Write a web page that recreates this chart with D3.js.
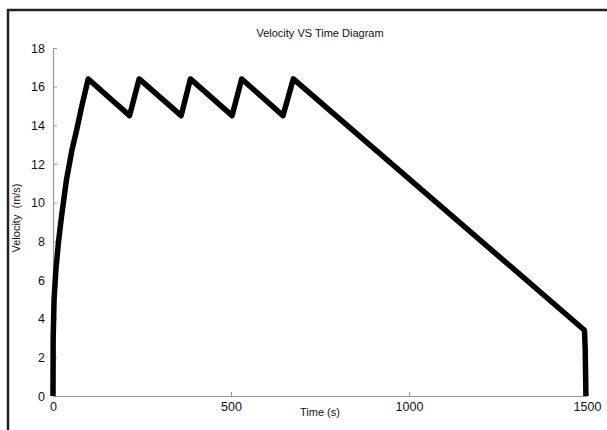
<!DOCTYPE html>
<html>
<head>
    <meta charset="utf-8">
    <script src="https://d3js.org/d3.v7.min.js"></script>
    <style>
        body { margin: 0; background: #fff; }
        text { font-family: "Liberation Sans", Arial, sans-serif; fill: #111; }
    </style>
</head>
<body>
    <div id="chart"><svg width="607" height="430"></svg></div>
    <script>
        // time (s) and velocity (m/s)
        var time = [0, 0.5, 3, 8, 15, 24, 38, 53, 67, 81, 99,
            215, 242, 360, 386, 503, 530, 646, 675, 1493, 1495, 1497];
        var velocity = [0, 3, 5, 6.5, 7.9, 9.3, 11.2, 12.7, 13.8, 15.0, 16.4,
            14.5, 16.4, 14.5, 16.4, 14.5, 16.4, 14.5, 16.4, 3.4, 2.4, 0];
        var xTicks = [0, 500, 1000, 1500];
        var yTicks = [0, 2, 4, 6, 8, 10, 12, 14, 16, 18];

        var svg = d3.select("#chart svg");

        // outer frame (only top and left edges fall inside the picture)
        svg.append("rect")
            .attr("x", 8).attr("y", 10)
            .attr("width", 640).attr("height", 460)
            .attr("fill", "none")
            .attr("stroke", "#222")
            .attr("stroke-width", 2.5);

        var plotL = 53, plotR = 587, plotT = 48, plotB = 396;
        var x = d3.scaleLinear().domain([0, 1500]).range([plotL, plotR]);
        var y = d3.scaleLinear().domain([0, 18]).range([plotB, plotT]);

        var xAxis = svg.append("g")
            .attr("transform", "translate(0," + plotB + ")")
            .call(d3.axisBottom(x).tickValues(xTicks).tickFormat(d3.format("d"))
                .tickSizeInner(-4).tickSizeOuter(0).tickPadding(6));
        var yAxis = svg.append("g")
            .attr("transform", "translate(" + plotL + ",0)")
            .call(d3.axisLeft(y).tickValues(yTicks).tickFormat(d3.format("d"))
                .tickSizeInner(-4).tickSizeOuter(0).tickPadding(8));

        [xAxis, yAxis].forEach(function(g) {
            g.select(".domain").attr("stroke", "#999").attr("stroke-width", 1.2);
            g.selectAll(".tick line").attr("stroke", "#999");
            g.selectAll(".tick text")
                .style("font-family", "'Liberation Sans', Arial, sans-serif")
                .style("font-size", "12.5px")
                .attr("fill", "#111");
        });

        var points = time.map(function(t, i) { return [t, velocity[i]]; });
        var line = d3.line()
            .x(function(d) { return x(d[0]); })
            .y(function(d) { return y(d[1]); });

        svg.append("path")
            .datum(points)
            .attr("d", line)
            .attr("fill", "none")
            .attr("stroke", "#000")
            .attr("stroke-width", 5.5)
            .attr("stroke-linejoin", "round");

        svg.append("text")
            .attr("x", 320).attr("y", 37)
            .attr("text-anchor", "middle")
            .style("font-size", "11px")
            .text("Velocity VS Time Diagram");

        svg.append("text")
            .attr("x", 320).attr("y", 416)
            .attr("text-anchor", "middle")
            .style("font-size", "11px")
            .text("Time (s)");

        svg.append("text")
            .attr("transform", "translate(20,218) rotate(-90)")
            .attr("text-anchor", "middle")
            .style("font-size", "11px")
            .style("white-space", "pre")
            .text("Velocity  (m/s)");
    </script>
</body>
</html>
